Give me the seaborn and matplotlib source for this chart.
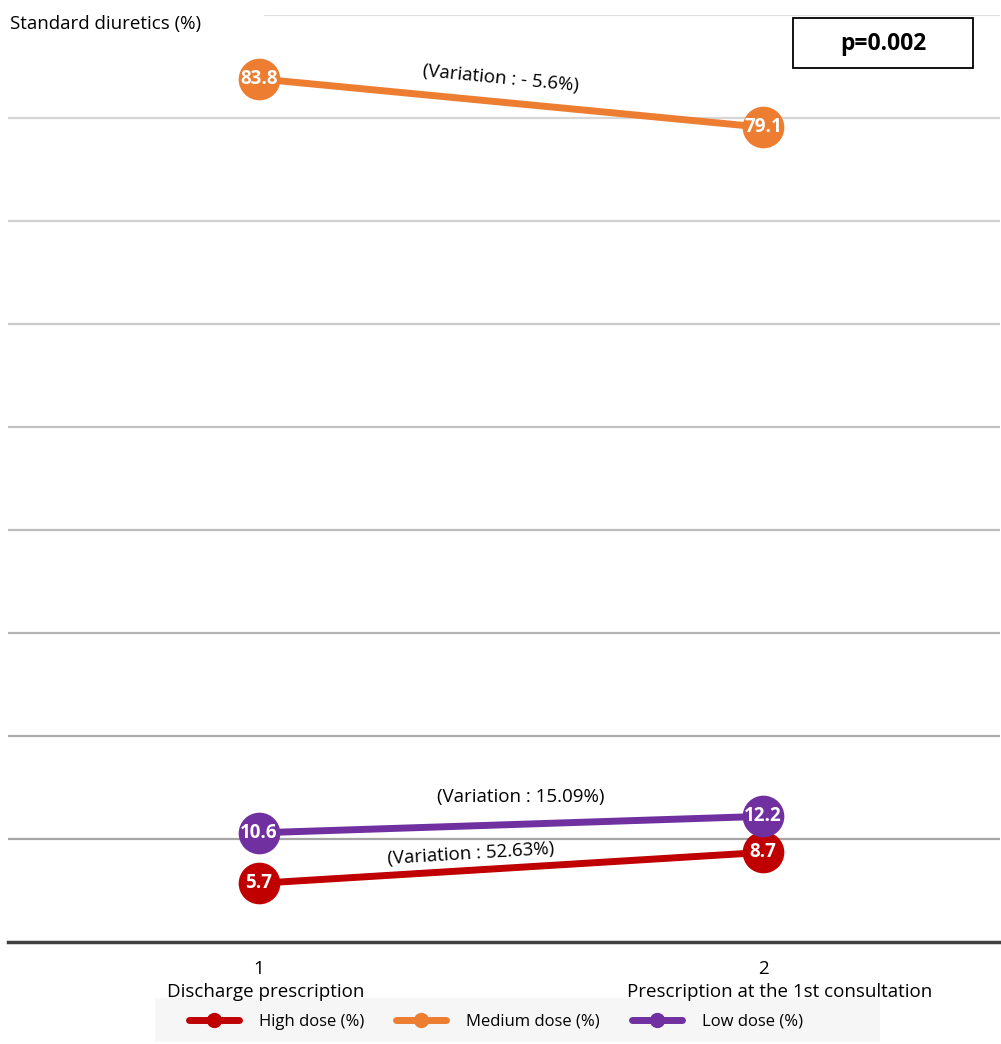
import numpy as np
import pandas as pd
import seaborn as sns
import matplotlib.pyplot as plt
from matplotlib.lines import Line2D

# Data
stage_numbers = ["1", "2"]
stage_names = ["Discharge prescription", "Prescription at the 1st consultation"]
doses = ["High dose (%)", "Medium dose (%)", "Low dose (%)"]
high_dose = [5.7, 8.7]
medium_dose = [83.8, 79.1]
low_dose = [10.6, 12.2]
variations = ["(Variation : 52.63%)", "(Variation : - 5.6%)", "(Variation : 15.09%)"]
p_value = "p=0.002"
y_ticks = [0, 10, 20, 30, 40, 50, 60, 70, 80, 90]

colors = ["#C00000", "#ED7D31", "#7030A0"]

df = pd.DataFrame({
    "stage": [0, 1] * 3,
    "dose": [d for d in doses for _ in range(2)],
    "value": high_dose + medium_dose + low_dose,
})

sns.set_theme(style="white")
plt.rcParams["font.family"] = ["Open Sans", "DejaVu Sans"]
plt.rcParams["text.color"] = "black"
plt.rcParams["xtick.color"] = "black"
plt.rcParams["xtick.labelcolor"] = "black"

fig = plt.figure(figsize=(10.01, 10.44), dpi=100)
ax = fig.add_axes([8 / 1001, (1044 - 942) / 1044, 992 / 1001, (942 - 15) / 1044])

x_left, x_right = (8 - 259) / 504, (1000 - 259) / 504
ax.set_xlim(x_left, x_right)
ax.set_ylim(0, 90)

# Horizontal gridlines, getting lighter toward the top
dark = np.array([165, 165, 165])
light = np.array([222, 222, 222])
for v in y_ticks[1:]:
    t = (v - 10) / 80
    c = (dark + (light - dark) * t) / 255
    xmin = (265 - 8) / 992 if v == 90 else 0
    ax.axhline(v, xmin=xmin, xmax=1, color=c, lw=1.6, zorder=0)

sns.lineplot(data=df, x="stage", y="value", hue="dose", palette=colors,
             hue_order=doses, marker="o", markersize=30, markeredgewidth=0,
             linewidth=5, legend=False, ax=ax, zorder=3)

# Values inside the markers
for series in [high_dose, medium_dose, low_dose]:
    for i, v in enumerate(series):
        ax.text(i, v, f"{v:.1f}", color="white", ha="center", va="center",
                fontsize=13.5, fontweight="bold", zorder=5)

# Variation annotations along each line
def line_angle(series):
    p0 = ax.transData.transform((0, series[0]))
    p1 = ax.transData.transform((1, series[1]))
    return np.degrees(np.arctan2(p1[1] - p0[1], p1[0] - p0[0]))

ann = [
    (high_dose, variations[0], 0.42, 12, True),
    (medium_dose, variations[1], 0.48, 17, True),
    (low_dose, variations[2], 0.52, 19.5, False),
]
for series, text, xpos, off, rot in ann:
    yv = series[0] + (series[1] - series[0]) * xpos
    ang = line_angle(series) if rot else 0
    ax.annotate(text, xy=(xpos, yv), xytext=(0, off), textcoords="offset points",
                ha="center", va="center", rotation=ang, rotation_mode="anchor",
                fontsize=13.5, color="black")

# Axis styling
for s in ["left", "right", "top"]:
    ax.spines[s].set_visible(False)
ax.spines["bottom"].set_color("#404040")
ax.spines["bottom"].set_linewidth(2.5)
ax.set_yticks([])
ax.set_ylabel("")
ax.set_xlabel("")
ax.set_xticks([0, 1])
ax.set_xticklabels(stage_numbers, fontsize=13.5, color="black")
ax.tick_params(axis="x", length=0, pad=13)

# Stage names below the stage numbers
for i, (name, dx) in enumerate(zip(stage_names, [7, 17])):
    ax.annotate(name, xy=(i, 0), xycoords=("data", "axes fraction"),
                xytext=(dx * 0.72, -36), textcoords="offset points",
                ha="center", va="center", fontsize=13.5, color="black",
                annotation_clip=False)

fig.text(10 / 1001, 1 - 24 / 1044, "Standard diuretics (%)", fontsize=13.5,
         ha="left", va="center", color="black")

# p-value box
p_box = plt.Rectangle((793 / 1001, 1 - 68 / 1044), 180 / 1001, 50 / 1044,
                      transform=fig.transFigure, facecolor="white",
                      edgecolor="black", lw=1.3)
fig.add_artist(p_box)
fig.text(883 / 1001, 1 - 44 / 1044, p_value, fontsize=16.5, fontweight="bold",
         ha="center", va="center", color="black")

# Legend with a light background strip
leg_bg = plt.Rectangle((155 / 1001, 2 / 1044), 725 / 1001, 44 / 1044,
                       transform=fig.transFigure, facecolor="#f6f6f6",
                       edgecolor="none", zorder=0)
fig.add_artist(leg_bg)
handles = [Line2D([0], [0], color=c, lw=5, marker="o", markersize=10) for c in colors]
leg = fig.legend(handles, doses, ncol=3, loc="center",
                 bbox_to_anchor=(496 / 1001, 22 / 1044), frameon=False,
                 fontsize=12, handlelength=3.0, columnspacing=1.9,
                 handletextpad=1.2, labelcolor="black")

fig.savefig("out.png", dpi=100)
